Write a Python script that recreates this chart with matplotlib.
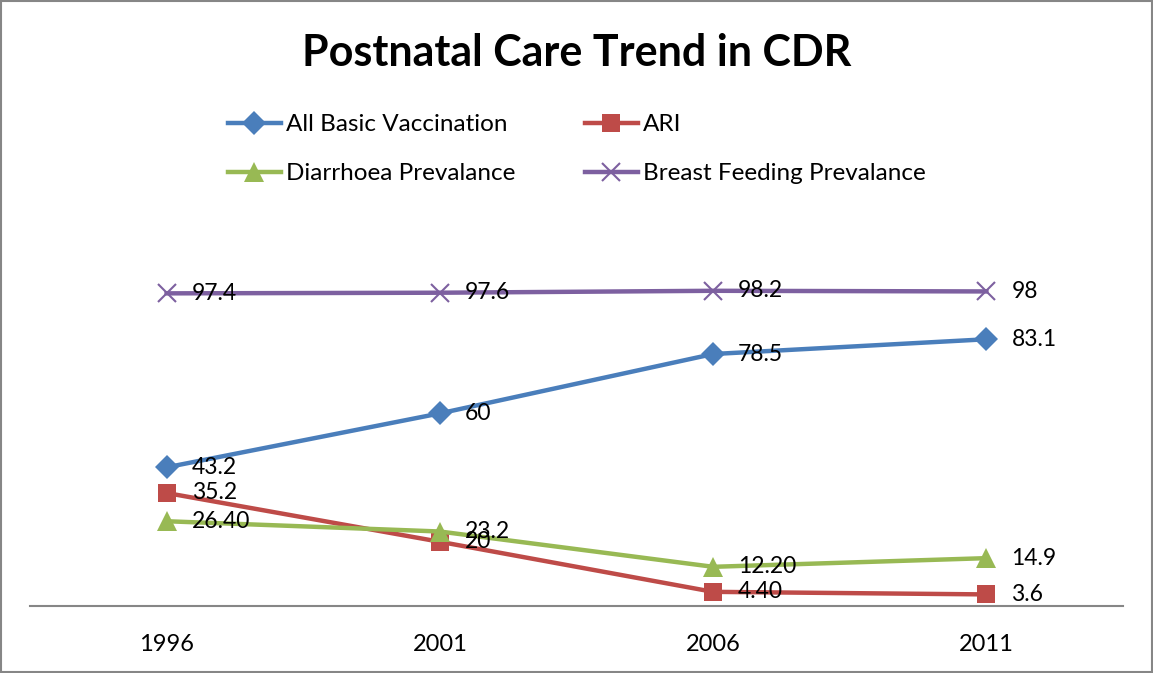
import matplotlib
matplotlib.use("Agg")
import matplotlib.pyplot as plt
from matplotlib.patches import Rectangle

plt.rcParams['font.family'] = ['Lato', 'DejaVu Sans']

years = ["1996", "2001", "2006", "2011"]
vaccination = [43.2, 60, 78.5, 83.1]
ari = [35.2, 20, 4.4, 3.6]
diarrhoea = [26.4, 23.2, 12.2, 14.9]
breast_feeding = [97.4, 97.6, 98.2, 98]

vacc_labels = ["43.2", "60", "78.5", "83.1"]
ari_labels = ["35.2", "20", "4.40", "3.6"]
diarr_labels = ["26.40", "23.2", "12.20", "14.9"]
breast_labels = ["97.4", "97.6", "98.2", "98"]

series = [
    ("All Basic Vaccination", vaccination, vacc_labels, "#4A7EBB", "D", 12.5),
    ("ARI", ari, ari_labels, "#BE4B48", "s", 12.5),
    ("Diarrhoea Prevalance", diarrhoea, diarr_labels, "#98B954", "^", 14),
    ("Breast Feeding Prevalance", breast_feeding, breast_labels, "#7D60A0", "x", 12.5),
]

fig = plt.figure(figsize=(11.53, 6.73), dpi=100)
ax = fig.add_axes([0.026, 0.0996, 0.948, 0.4769])

x = list(range(len(years)))
handles = []
for name, vals, labels, color, marker, ms in series:
    h, = ax.plot(x, vals, color=color, lw=3.2, marker=marker, ms=ms,
                 mew=1.5 if marker == "x" else 0, mec=color, label=name, clip_on=False)
    handles.append(h)
    for xi, v, lab in zip(x, vals, labels):
        ax.annotate(lab, (xi, v), xytext=(18, 0), textcoords="offset points",
                    va="center", ha="left", fontsize=16.5, color="black")

ax.set_xlim(-0.5, 3.5)
ax.set_ylim(0, 100)
ax.set_xticks(x)
ax.set_xticklabels(years, fontsize=17)
ax.tick_params(axis="x", length=0, pad=20)
ax.set_yticks([])
for side in ["left", "right", "top"]:
    ax.spines[side].set_visible(False)
ax.spines["bottom"].set_color("#868686")
ax.spines["bottom"].set_linewidth(1.5)

fig.text(0.5, 0.921, "Postnatal Care Trend in CDR", ha="center", va="center",
         fontsize=31, fontweight="bold")

# legend fills column-wise, so order entries to read row-wise like the original
order = [0, 2, 1, 3]
fig.legend([handles[i] for i in order], [series[i][0] for i in order],
           loc="center left", bbox_to_anchor=(0.189, 0.778), ncol=2, frameon=False,
           fontsize=17.5, handlelength=2.2, columnspacing=2.85, labelspacing=1.15,
           handletextpad=0.2, borderaxespad=0)

fig.patches.append(Rectangle((0.001, 0.002), 0.998, 0.996, transform=fig.transFigure,
                             fill=False, ec="#868686", lw=1.5))

fig.savefig("out.png", dpi=100)
